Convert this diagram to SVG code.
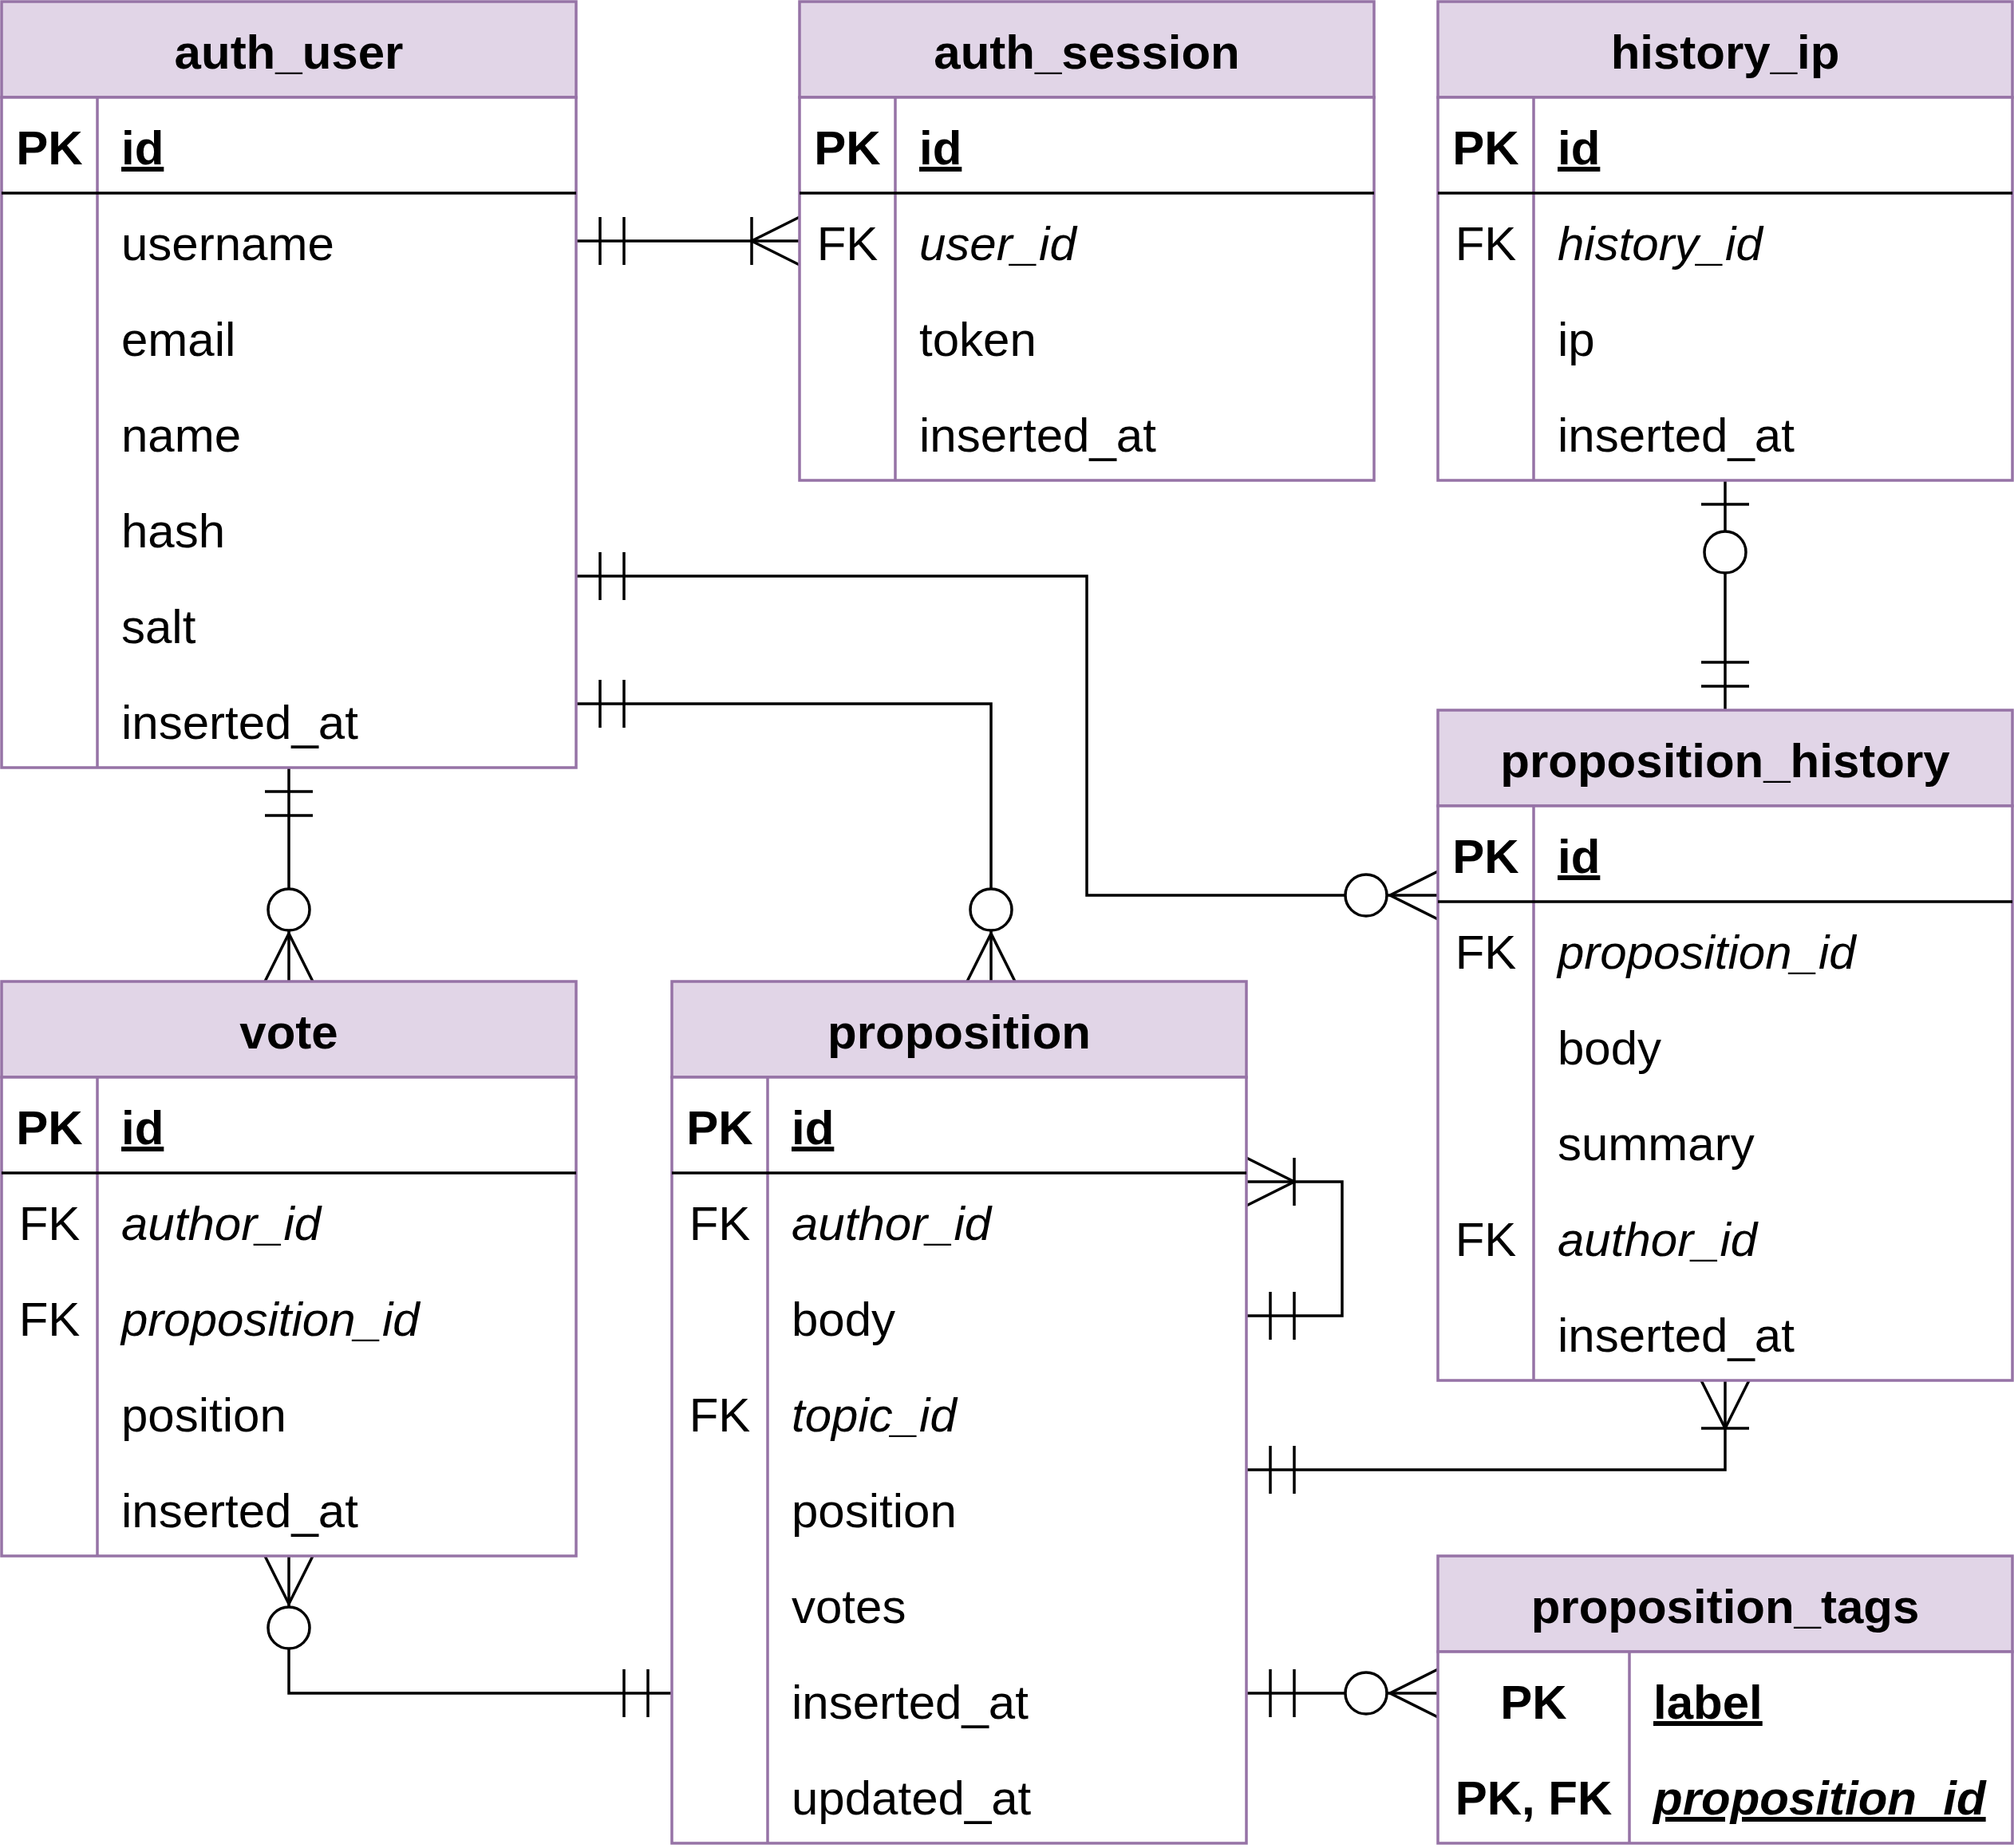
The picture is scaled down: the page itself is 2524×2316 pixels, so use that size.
<svg xmlns="http://www.w3.org/2000/svg" width="2524" height="2316" viewBox="0 0 2524 2316">
<style>
.hdr{fill:#e1d5e7;stroke:#9673a6;stroke-width:3.5}
.bd{fill:#ffffff;stroke:#9673a6;stroke-width:3.5}
.sep{stroke:#9673a6;stroke-width:3.5}
.pk{stroke:#000000;stroke-width:3.5}
text{font-family:"Liberation Sans",Arial,Helvetica,sans-serif;font-size:60px;fill:#000000}
.t{font-weight:bold;text-anchor:middle}
.k{text-anchor:middle}
.b{font-weight:bold}
.i{font-style:italic}
.u{text-decoration:underline}
.conn path{fill:none;stroke:#000000;stroke-width:3.5}
.m{fill:none;stroke:#000000;stroke-width:3.5}
.mc{fill:#ffffff;stroke:#000000;stroke-width:3.5}
</style>
<defs>
<marker id="mandOne" markerUnits="userSpaceOnUse" orient="auto-start-reverse" refX="0" refY="0" markerWidth="1" markerHeight="1" overflow="visible">
<path class="m" d="M-30,-30V30M-60,-30V30"/>
</marker>
<marker id="oneToMany" markerUnits="userSpaceOnUse" orient="auto-start-reverse" refX="0" refY="0" markerWidth="1" markerHeight="1" overflow="visible">
<path class="m" d="M0,-30L-60,0L0,30M-60,-30V30"/>
</marker>
<marker id="zeroToMany" markerUnits="userSpaceOnUse" orient="auto-start-reverse" refX="0" refY="0" markerWidth="1" markerHeight="1" overflow="visible">
<path class="m" d="M0,-30L-60,0L0,30"/>
<circle class="mc" cx="-90" cy="0" r="26"/>
</marker>
<marker id="zeroToOne" markerUnits="userSpaceOnUse" orient="auto-start-reverse" refX="0" refY="0" markerWidth="1" markerHeight="1" overflow="visible">
<path class="m" d="M-30,-30V30"/>
<circle class="mc" cx="-90" cy="0" r="26"/>
</marker>
</defs>
<rect x="0" y="0" width="2524" height="2316" fill="#ffffff"/>

<g id="connectors" class="conn">
<path d="M722,302H1002" marker-start="url(#mandOne)" marker-end="url(#oneToMany)"/>
<path d="M2162,602V890" marker-start="url(#zeroToOne)" marker-end="url(#mandOne)"/>
<path d="M722,722H1362V1122H1802" marker-start="url(#mandOne)" marker-end="url(#zeroToMany)"/>
<path d="M722,882H1242V1230" marker-start="url(#mandOne)" marker-end="url(#zeroToMany)"/>
<path d="M362,962V1230" marker-start="url(#mandOne)" marker-end="url(#zeroToMany)"/>
<path d="M362,1950V2122H842" marker-start="url(#zeroToMany)" marker-end="url(#mandOne)"/>
<path d="M1562,1481H1682V1649H1562" marker-start="url(#oneToMany)" marker-end="url(#mandOne)"/>
<path d="M1562,1842H2162V1730" marker-start="url(#mandOne)" marker-end="url(#oneToMany)"/>
<path d="M1562,2122H1802" marker-start="url(#mandOne)" marker-end="url(#zeroToMany)"/>
</g>

<g id="auth_user">
<rect class="hdr" x="2" y="2" width="720" height="120"/>
<rect class="bd" x="2" y="122" width="720" height="840"/>
<line class="sep" x1="122" y1="122" x2="122" y2="962"/>
<line class="pk" x1="2" y1="242" x2="722" y2="242"/>
<text class="t" x="362" y="86">auth_user</text>
<text class="k b" x="62" y="206">PK</text>
<text class="b u" x="152" y="206">id</text>
<text x="152" y="326">username</text>
<text x="152" y="446">email</text>
<text x="152" y="566">name</text>
<text x="152" y="686">hash</text>
<text x="152" y="806">salt</text>
<text x="152" y="926">inserted_at</text>
</g>

<g id="auth_session">
<rect class="hdr" x="1002" y="2" width="720" height="120"/>
<rect class="bd" x="1002" y="122" width="720" height="480"/>
<line class="sep" x1="1122" y1="122" x2="1122" y2="602"/>
<line class="pk" x1="1002" y1="242" x2="1722" y2="242"/>
<text class="t" x="1362" y="86">auth_session</text>
<text class="k b" x="1062" y="206">PK</text>
<text class="b u" x="1152" y="206">id</text>
<text class="k" x="1062" y="326">FK</text>
<text class="i" x="1152" y="326">user_id</text>
<text x="1152" y="446">token</text>
<text x="1152" y="566">inserted_at</text>
</g>

<g id="history_ip">
<rect class="hdr" x="1802" y="2" width="720" height="120"/>
<rect class="bd" x="1802" y="122" width="720" height="480"/>
<line class="sep" x1="1922" y1="122" x2="1922" y2="602"/>
<line class="pk" x1="1802" y1="242" x2="2522" y2="242"/>
<text class="t" x="2162" y="86">history_ip</text>
<text class="k b" x="1862" y="206">PK</text>
<text class="b u" x="1952" y="206">id</text>
<text class="k" x="1862" y="326">FK</text>
<text class="i" x="1952" y="326">history_id</text>
<text x="1952" y="446">ip</text>
<text x="1952" y="566">inserted_at</text>
</g>

<g id="proposition_history">
<rect class="hdr" x="1802" y="890" width="720" height="120"/>
<rect class="bd" x="1802" y="1010" width="720" height="720"/>
<line class="sep" x1="1922" y1="1010" x2="1922" y2="1730"/>
<line class="pk" x1="1802" y1="1130" x2="2522" y2="1130"/>
<text class="t" x="2162" y="974">proposition_history</text>
<text class="k b" x="1862" y="1094">PK</text>
<text class="b u" x="1952" y="1094">id</text>
<text class="k" x="1862" y="1214">FK</text>
<text class="i" x="1952" y="1214">proposition_id</text>
<text x="1952" y="1334">body</text>
<text x="1952" y="1454">summary</text>
<text class="k" x="1862" y="1574">FK</text>
<text class="i" x="1952" y="1574">author_id</text>
<text x="1952" y="1694">inserted_at</text>
</g>

<g id="vote">
<rect class="hdr" x="2" y="1230" width="720" height="120"/>
<rect class="bd" x="2" y="1350" width="720" height="600"/>
<line class="sep" x1="122" y1="1350" x2="122" y2="1950"/>
<line class="pk" x1="2" y1="1470" x2="722" y2="1470"/>
<text class="t" x="362" y="1314">vote</text>
<text class="k b" x="62" y="1434">PK</text>
<text class="b u" x="152" y="1434">id</text>
<text class="k" x="62" y="1554">FK</text>
<text class="i" x="152" y="1554">author_id</text>
<text class="k" x="62" y="1674">FK</text>
<text class="i" x="152" y="1674">proposition_id</text>
<text x="152" y="1794">position</text>
<text x="152" y="1914">inserted_at</text>
</g>

<g id="proposition">
<rect class="hdr" x="842" y="1230" width="720" height="120"/>
<rect class="bd" x="842" y="1350" width="720" height="960"/>
<line class="sep" x1="962" y1="1350" x2="962" y2="2310"/>
<line class="pk" x1="842" y1="1470" x2="1562" y2="1470"/>
<text class="t" x="1202" y="1314">proposition</text>
<text class="k b" x="902" y="1434">PK</text>
<text class="b u" x="992" y="1434">id</text>
<text class="k" x="902" y="1554">FK</text>
<text class="i" x="992" y="1554">author_id</text>
<text x="992" y="1674">body</text>
<text class="k" x="902" y="1794">FK</text>
<text class="i" x="992" y="1794">topic_id</text>
<text x="992" y="1914">position</text>
<text x="992" y="2034">votes</text>
<text x="992" y="2154">inserted_at</text>
<text x="992" y="2274">updated_at</text>
</g>

<g id="proposition_tags">
<rect class="hdr" x="1802" y="1950" width="720" height="120"/>
<rect class="bd" x="1802" y="2070" width="720" height="240"/>
<line class="sep" x1="2042" y1="2070" x2="2042" y2="2310"/>
<text class="t" x="2162" y="2034">proposition_tags</text>
<text class="k b" x="1922" y="2154">PK</text>
<text class="b u" x="2072" y="2154">label</text>
<text class="k b" x="1922" y="2274">PK, FK</text>
<text class="b i u" x="2072" y="2274">proposition_id</text>
</g>
</svg>
